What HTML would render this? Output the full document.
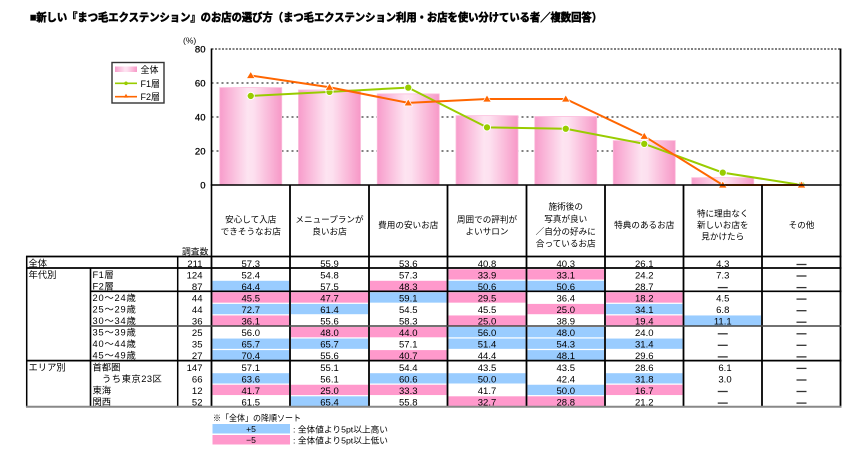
<!DOCTYPE html>
<html><head><meta charset="utf-8">
<style>
html,body{margin:0;padding:0;background:#fff;}
body{width:855px;height:450px;overflow:hidden;}
svg{display:block;}
text{font-family:"Liberation Sans","Noto Sans CJK JP",sans-serif;fill:#000;}
.n{font-size:9.5px;text-anchor:middle;}
.r{font-size:9.5px;text-anchor:end;}
.l{font-size:9.3px;}
.h{font-size:8.6px;text-anchor:middle;font-family:"Liberation Sans","Noto Sans CJK JP",sans-serif;}
.tk{stroke:#000;stroke-width:0.25px;}
</style></head><body>
<svg width="855" height="450" viewBox="0 0 855 450" xmlns="http://www.w3.org/2000/svg">
<defs>
<linearGradient id="g" x1="0" y1="0" x2="1" y2="0">
<stop offset="0" stop-color="#f89ccb"/>
<stop offset="0.45" stop-color="#fde4f1"/>
<stop offset="0.55" stop-color="#fde0ef"/>
<stop offset="1" stop-color="#f798c7"/>
</linearGradient>
</defs>

<!-- Title -->
<text x="30" y="21" style="font-size:11px;font-weight:bold;stroke:#000;stroke-width:0.55px" textLength="572" lengthAdjust="spacingAndGlyphs">■新しい『まつ毛エクステンション』のお店の選び方（まつ毛エクステンション利用・お店を使い分けている者／複数回答）</text>

<!-- y axis labels -->
<text x="183" y="43.5" style="font-size:8.5px">(%)</text>
<text class="r tk" x="205.5" y="52.5">80</text>
<text class="r tk" x="205.5" y="86.5">60</text>
<text class="r tk" x="205.5" y="120.5">40</text>
<text class="r tk" x="205.5" y="154.5">20</text>
<text class="r tk" x="205.5" y="188.5">0</text>

<!-- gridlines -->
<g stroke="#000" stroke-width="1" stroke-dasharray="2,3">
<line x1="211.5" y1="83" x2="840" y2="83"/>
<line x1="211.5" y1="117" x2="840" y2="117"/>
<line x1="211.5" y1="151" x2="840" y2="151"/>
</g>
<line x1="211.5" y1="49" x2="840" y2="49" stroke="#555" stroke-width="1.6" stroke-dasharray="2,1.5"/>

<!-- bars -->
<g fill="url(#g)" stroke="#fbbcdb" stroke-width="0.8">
<rect x="219.75" y="87.59" width="62" height="97.41"/>
<rect x="298.5" y="89.97" width="62" height="95.03"/>
<rect x="377.25" y="93.88" width="62" height="91.12"/>
<rect x="456" y="115.64" width="62" height="69.36"/>
<rect x="534.75" y="116.49" width="62" height="68.51"/>
<rect x="613.25" y="140.63" width="62" height="44.37"/>
<rect x="691.75" y="177.69" width="62" height="7.31"/>
</g>

<!-- F1 line -->
<polyline fill="none" stroke="#99cc00" stroke-width="2" points="250.75,95.92 329.5,91.84 408.25,87.59 487,127.37 565.75,128.73 644.25,143.86 722.75,172.59 801.5,185"/>
<g fill="#99cc00" stroke="#fff" stroke-width="0.9">
<circle cx="250.75" cy="95.92" r="3.6"/>
<circle cx="329.5" cy="91.84" r="3.6"/>
<circle cx="408.25" cy="87.59" r="3.6"/>
<circle cx="487" cy="127.37" r="3.6"/>
<circle cx="565.75" cy="128.73" r="3.6"/>
<circle cx="644.25" cy="143.86" r="3.6"/>
<circle cx="722.75" cy="172.59" r="3.6"/>
<circle cx="801.5" cy="185" r="3.6"/>
</g>

<!-- F2 line -->
<polyline fill="none" stroke="#ff6600" stroke-width="2" points="250.75,75.52 329.5,87.25 408.25,102.89 487,98.98 565.75,98.98 644.25,136.21 722.75,185 801.5,185"/>
<g fill="#ff6600" stroke="#fff" stroke-width="0.7">
<polygon points="250.75,71.5 246.5,78.5 255,78.5"/>
<polygon points="329.5,83.2 325.25,90.2 333.75,90.2"/>
<polygon points="408.25,98.9 404,105.9 412.5,105.9"/>
<polygon points="487,95 482.75,102 491.25,102"/>
<polygon points="565.75,95 561.5,102 570,102"/>
<polygon points="644.25,132.2 640,139.2 648.5,139.2"/>
<polygon points="722.75,181 718.5,188 727,188"/>
<polygon points="801.5,181 797.25,188 805.75,188"/>
</g>

<!-- plot frame -->
<line x1="211.5" y1="48.5" x2="211.5" y2="256.5" stroke="#000" stroke-width="1.6"/>
<line x1="840.5" y1="48.5" x2="840.5" y2="407" stroke="#000" stroke-width="1.8"/>
<line x1="210.7" y1="185" x2="841.3" y2="185" stroke="#000" stroke-width="1.6"/>

<!-- Legend -->
<rect x="112" y="62.5" width="52" height="40.5" fill="#fff" stroke="#333" stroke-width="1.4"/>
<rect x="115" y="66.5" width="22" height="5.5" fill="url(#g)"/>
<text class="l" x="140.5" y="72.8" style="font-size:9px">全体</text>
<line x1="115" y1="83.3" x2="137" y2="83.3" stroke="#99cc00" stroke-width="1.6"/>
<circle cx="126" cy="83.3" r="1.8" fill="#99cc00"/>
<text class="l" x="140.5" y="86.8" style="font-size:9px">F1層</text>
<line x1="115" y1="96.7" x2="137" y2="96.7" stroke="#ff6600" stroke-width="1.6"/>
<polygon points="126,93.8 123.8,97.6 128.2,97.6" fill="#ff6600"/>
<text class="l" x="140.5" y="100.2" style="font-size:9px">F2層</text>

<!-- Header texts -->
<text class="h" x="250.75" y="222.3">安心して入店</text>
<text class="h" x="250.75" y="234.7">できそうなお店</text>
<text class="h" x="329.5" y="222.3">メニュープランが</text>
<text class="h" x="329.5" y="234.7">良いお店</text>
<text class="h" x="408.25" y="228">費用の安いお店</text>
<text class="h" x="487" y="222.3">周囲での評判が</text>
<text class="h" x="487" y="234.7">よいサロン</text>
<text class="h" x="565.75" y="209.5">施術後の</text>
<text class="h" x="565.75" y="221.9">写真が良い</text>
<text class="h" x="565.75" y="234.3">／自分の好みに</text>
<text class="h" x="565.75" y="246.7">合っているお店</text>
<text class="h" x="644.25" y="228">特典のあるお店</text>
<text class="h" x="722.75" y="216.3">特に理由なく</text>
<text class="h" x="722.75" y="228">新しいお店を</text>
<text class="h" x="722.75" y="239.7">見かけたら</text>
<text class="h" x="801.5" y="228">その他</text>
<text class="l" x="182" y="254.5" style="font-size:8.8px">調査数</text>

<!-- highlight cells -->
<g>
<rect x="448.5" y="269.25" width="77" height="10.3" fill="#ff99cc"/>
<rect x="527.5" y="269.25" width="76.5" height="10.3" fill="#ff99cc"/>
<rect x="212.5" y="280.8" width="76.5" height="10.3" fill="#99ccff"/>
<rect x="370" y="280.8" width="76.5" height="10.3" fill="#ff99cc"/>
<rect x="448.5" y="280.8" width="77" height="10.3" fill="#99ccff"/>
<rect x="527.5" y="280.8" width="76.5" height="10.3" fill="#99ccff"/>
<rect x="212.5" y="292.35" width="76.5" height="10.3" fill="#ff99cc"/>
<rect x="291" y="292.35" width="77" height="10.3" fill="#ff99cc"/>
<rect x="370" y="292.35" width="76.5" height="10.3" fill="#99ccff"/>
<rect x="448.5" y="292.35" width="77" height="10.3" fill="#ff99cc"/>
<rect x="606" y="292.35" width="76.5" height="10.3" fill="#ff99cc"/>
<rect x="212.5" y="303.9" width="76.5" height="10.3" fill="#99ccff"/>
<rect x="291" y="303.9" width="77" height="10.3" fill="#99ccff"/>
<rect x="527.5" y="303.9" width="76.5" height="10.3" fill="#ff99cc"/>
<rect x="606" y="303.9" width="76.5" height="10.3" fill="#99ccff"/>
<rect x="212.5" y="315.45" width="76.5" height="10.3" fill="#ff99cc"/>
<rect x="448.5" y="315.45" width="77" height="10.3" fill="#ff99cc"/>
<rect x="606" y="315.45" width="76.5" height="10.3" fill="#ff99cc"/>
<rect x="684.5" y="315.45" width="76.5" height="10.3" fill="#99ccff"/>
<rect x="291" y="327" width="77" height="10.3" fill="#ff99cc"/>
<rect x="370" y="327" width="76.5" height="10.3" fill="#ff99cc"/>
<rect x="448.5" y="327" width="77" height="10.3" fill="#99ccff"/>
<rect x="527.5" y="327" width="76.5" height="10.3" fill="#99ccff"/>
<rect x="212.5" y="338.55" width="76.5" height="10.3" fill="#99ccff"/>
<rect x="291" y="338.55" width="77" height="10.3" fill="#99ccff"/>
<rect x="448.5" y="338.55" width="77" height="10.3" fill="#99ccff"/>
<rect x="527.5" y="338.55" width="76.5" height="10.3" fill="#99ccff"/>
<rect x="606" y="338.55" width="76.5" height="10.3" fill="#99ccff"/>
<rect x="212.5" y="350.1" width="76.5" height="10.3" fill="#99ccff"/>
<rect x="370" y="350.1" width="76.5" height="10.3" fill="#ff99cc"/>
<rect x="527.5" y="350.1" width="76.5" height="10.3" fill="#99ccff"/>
<rect x="212.5" y="373.2" width="76.5" height="10.3" fill="#99ccff"/>
<rect x="370" y="373.2" width="76.5" height="10.3" fill="#99ccff"/>
<rect x="448.5" y="373.2" width="77" height="10.3" fill="#99ccff"/>
<rect x="606" y="373.2" width="76.5" height="10.3" fill="#99ccff"/>
<rect x="212.5" y="384.75" width="76.5" height="10.3" fill="#ff99cc"/>
<rect x="291" y="384.75" width="77" height="10.3" fill="#ff99cc"/>
<rect x="370" y="384.75" width="76.5" height="10.3" fill="#ff99cc"/>
<rect x="527.5" y="384.75" width="76.5" height="10.3" fill="#99ccff"/>
<rect x="606" y="384.75" width="76.5" height="10.3" fill="#ff99cc"/>
<rect x="291" y="396.3" width="77" height="10.3" fill="#99ccff"/>
<rect x="448.5" y="396.3" width="77" height="10.3" fill="#ff99cc"/>
<rect x="527.5" y="396.3" width="76.5" height="10.3" fill="#ff99cc"/>
</g>

<!-- table lines -->
<g stroke="#000" stroke-width="1.8">
<line x1="290" y1="185" x2="290" y2="407"/>
<line x1="369" y1="185" x2="369" y2="407"/>
<line x1="447.5" y1="185" x2="447.5" y2="407"/>
<line x1="526.5" y1="185" x2="526.5" y2="407"/>
<line x1="605" y1="185" x2="605" y2="407"/>
<line x1="683.5" y1="185" x2="683.5" y2="407"/>
<line x1="762" y1="185" x2="762" y2="407"/>
<line x1="211.5" y1="256" x2="211.5" y2="407"/>
<line x1="177.7" y1="256" x2="177.7" y2="407" stroke-width="1.5"/>
<line x1="26.7" y1="256" x2="26.7" y2="407" stroke-width="1.5"/>
<line x1="90.5" y1="268" x2="90.5" y2="407" stroke-width="1.6"/>
<line x1="26" y1="256.5" x2="841.5" y2="256.5" stroke-width="1.8"/>
<line x1="26" y1="268" x2="841.5" y2="268" stroke-width="1.8"/>
<line x1="90" y1="291.3" x2="841.5" y2="291.3" stroke-width="1.6"/>
<line x1="90" y1="326" x2="841.5" y2="326" stroke-width="1.6" stroke="#444"/>
<line x1="26" y1="360.6" x2="841.5" y2="360.6" stroke-width="1.8"/>
<line x1="26" y1="406.8" x2="841.5" y2="406.8" stroke-width="2" stroke="#888"/>
</g>

<!-- left labels -->
<text class="l" x="28.5" y="266.3">全体</text>
<text class="l" x="28.5" y="277.9">年代別</text>
<text class="l" x="28.5" y="370.3">エリア別</text>
<text class="l" x="92.5" y="277.9" style="letter-spacing:0.5px">F1層</text>
<text class="l" x="92.5" y="289.4" style="letter-spacing:0.5px">F2層</text>
<text class="l" x="92.5" y="301" style="letter-spacing:0.8px">20～24歳</text>
<text class="l" x="92.5" y="312.5" style="letter-spacing:0.8px">25～29歳</text>
<text class="l" x="92.5" y="324.1" style="letter-spacing:0.8px">30～34歳</text>
<text class="l" x="92.5" y="335.6" style="letter-spacing:0.8px">35～39歳</text>
<text class="l" x="92.5" y="347.2" style="letter-spacing:0.8px">40～44歳</text>
<text class="l" x="92.5" y="358.7" style="letter-spacing:0.8px">45～49歳</text>
<text class="l" x="92.5" y="370.3">首都圏</text>
<text class="l" x="102" y="381.8" style="letter-spacing:0.5px">うち東京23区</text>
<text class="l" x="92.5" y="393.4">東海</text>
<text class="l" x="92.5" y="404.9">関西</text>

<!-- N -->
<text class="r" x="202.5" y="266.8">211</text>
<text class="r" x="202.5" y="278.35">124</text>
<text class="r" x="202.5" y="289.9">87</text>
<text class="r" x="202.5" y="301.45">44</text>
<text class="r" x="202.5" y="313">44</text>
<text class="r" x="202.5" y="324.55">36</text>
<text class="r" x="202.5" y="336.1">25</text>
<text class="r" x="202.5" y="347.65">35</text>
<text class="r" x="202.5" y="359.2">27</text>
<text class="r" x="202.5" y="370.75">147</text>
<text class="r" x="202.5" y="382.3">66</text>
<text class="r" x="202.5" y="393.85">12</text>
<text class="r" x="202.5" y="405.4">52</text>

<!-- data values -->
<text class="n" x="250.75" y="266.8">57.3</text><text class="n" x="329.5" y="266.8">55.9</text><text class="n" x="408.25" y="266.8">53.6</text><text class="n" x="487" y="266.8">40.8</text><text class="n" x="565.75" y="266.8">40.3</text><text class="n" x="644.25" y="266.8">26.1</text><text class="n" x="722.75" y="266.8">4.3</text>
<text class="n" x="250.75" y="278.35">52.4</text><text class="n" x="329.5" y="278.35">54.8</text><text class="n" x="408.25" y="278.35">57.3</text><text class="n" x="487" y="278.35">33.9</text><text class="n" x="565.75" y="278.35">33.1</text><text class="n" x="644.25" y="278.35">24.2</text><text class="n" x="722.75" y="278.35">7.3</text>
<text class="n" x="250.75" y="289.9">64.4</text><text class="n" x="329.5" y="289.9">57.5</text><text class="n" x="408.25" y="289.9">48.3</text><text class="n" x="487" y="289.9">50.6</text><text class="n" x="565.75" y="289.9">50.6</text><text class="n" x="644.25" y="289.9">28.7</text>
<text class="n" x="250.75" y="301.45">45.5</text><text class="n" x="329.5" y="301.45">47.7</text><text class="n" x="408.25" y="301.45">59.1</text><text class="n" x="487" y="301.45">29.5</text><text class="n" x="565.75" y="301.45">36.4</text><text class="n" x="644.25" y="301.45">18.2</text><text class="n" x="722.75" y="301.45">4.5</text>
<text class="n" x="250.75" y="313">72.7</text><text class="n" x="329.5" y="313">61.4</text><text class="n" x="408.25" y="313">54.5</text><text class="n" x="487" y="313">45.5</text><text class="n" x="565.75" y="313">25.0</text><text class="n" x="644.25" y="313">34.1</text><text class="n" x="722.75" y="313">6.8</text>
<text class="n" x="250.75" y="324.55">36.1</text><text class="n" x="329.5" y="324.55">55.6</text><text class="n" x="408.25" y="324.55">58.3</text><text class="n" x="487" y="324.55">25.0</text><text class="n" x="565.75" y="324.55">38.9</text><text class="n" x="644.25" y="324.55">19.4</text><text class="n" x="722.75" y="324.55">11.1</text>
<text class="n" x="250.75" y="336.1">56.0</text><text class="n" x="329.5" y="336.1">48.0</text><text class="n" x="408.25" y="336.1">44.0</text><text class="n" x="487" y="336.1">56.0</text><text class="n" x="565.75" y="336.1">48.0</text><text class="n" x="644.25" y="336.1">24.0</text>
<text class="n" x="250.75" y="347.65">65.7</text><text class="n" x="329.5" y="347.65">65.7</text><text class="n" x="408.25" y="347.65">57.1</text><text class="n" x="487" y="347.65">51.4</text><text class="n" x="565.75" y="347.65">54.3</text><text class="n" x="644.25" y="347.65">31.4</text>
<text class="n" x="250.75" y="359.2">70.4</text><text class="n" x="329.5" y="359.2">55.6</text><text class="n" x="408.25" y="359.2">40.7</text><text class="n" x="487" y="359.2">44.4</text><text class="n" x="565.75" y="359.2">48.1</text><text class="n" x="644.25" y="359.2">29.6</text>
<text class="n" x="250.75" y="370.75">57.1</text><text class="n" x="329.5" y="370.75">55.1</text><text class="n" x="408.25" y="370.75">54.4</text><text class="n" x="487" y="370.75">43.5</text><text class="n" x="565.75" y="370.75">43.5</text><text class="n" x="644.25" y="370.75">28.6</text><text class="n" x="725" y="370.75">6.1</text>
<text class="n" x="250.75" y="382.3">63.6</text><text class="n" x="329.5" y="382.3">56.1</text><text class="n" x="408.25" y="382.3">60.6</text><text class="n" x="487" y="382.3">50.0</text><text class="n" x="565.75" y="382.3">42.4</text><text class="n" x="644.25" y="382.3">31.8</text><text class="n" x="725" y="382.3">3.0</text>
<text class="n" x="250.75" y="393.85">41.7</text><text class="n" x="329.5" y="393.85">25.0</text><text class="n" x="408.25" y="393.85">33.3</text><text class="n" x="487" y="393.85">41.7</text><text class="n" x="565.75" y="393.85">50.0</text><text class="n" x="644.25" y="393.85">16.7</text>
<text class="n" x="250.75" y="405.4">61.5</text><text class="n" x="329.5" y="405.4">65.4</text><text class="n" x="408.25" y="405.4">55.8</text><text class="n" x="487" y="405.4">32.7</text><text class="n" x="565.75" y="405.4">28.8</text><text class="n" x="644.25" y="405.4">21.2</text>

<!-- dashes -->
<g stroke="#333" stroke-width="1.3">
<line x1="796.5" y1="264.5" x2="806.5" y2="264.5"/>
<line x1="796.5" y1="276" x2="806.5" y2="276"/>
<line x1="717.75" y1="287.6" x2="727.75" y2="287.6"/>
<line x1="796.5" y1="287.6" x2="806.5" y2="287.6"/>
<line x1="796.5" y1="299.1" x2="806.5" y2="299.1"/>
<line x1="796.5" y1="310.7" x2="806.5" y2="310.7"/>
<line x1="796.5" y1="322.2" x2="806.5" y2="322.2"/>
<line x1="717.75" y1="333.8" x2="727.75" y2="333.8"/>
<line x1="796.5" y1="333.8" x2="806.5" y2="333.8"/>
<line x1="717.75" y1="345.3" x2="727.75" y2="345.3"/>
<line x1="796.5" y1="345.3" x2="806.5" y2="345.3"/>
<line x1="717.75" y1="356.9" x2="727.75" y2="356.9"/>
<line x1="796.5" y1="356.9" x2="806.5" y2="356.9"/>
<line x1="796.5" y1="368.4" x2="806.5" y2="368.4"/>
<line x1="796.5" y1="380" x2="806.5" y2="380"/>
<line x1="717.75" y1="391.5" x2="727.75" y2="391.5"/>
<line x1="796.5" y1="391.5" x2="806.5" y2="391.5"/>
<line x1="717.75" y1="403.1" x2="727.75" y2="403.1"/>
<line x1="796.5" y1="403.1" x2="806.5" y2="403.1"/>
</g>

<!-- footer legend -->
<text x="213" y="421" style="font-size:8.6px" textLength="88" lengthAdjust="spacingAndGlyphs">※「全体」の降順ソート</text>
<rect x="212.5" y="424" width="77.5" height="9.5" fill="#99ccff"/>
<rect x="212.5" y="435" width="77.5" height="9.5" fill="#ff99cc"/>
<text class="n" x="251" y="432" style="font-size:8.6px">+5</text>
<text class="n" x="251" y="443" style="font-size:8.6px">−5</text>
<text x="293" y="432.3" style="font-size:8.6px" textLength="95" lengthAdjust="spacingAndGlyphs">: 全体値より5pt以上高い</text>
<text x="293" y="443.3" style="font-size:8.6px" textLength="95" lengthAdjust="spacingAndGlyphs">: 全体値より5pt以上低い</text>
</svg>
</body></html>
